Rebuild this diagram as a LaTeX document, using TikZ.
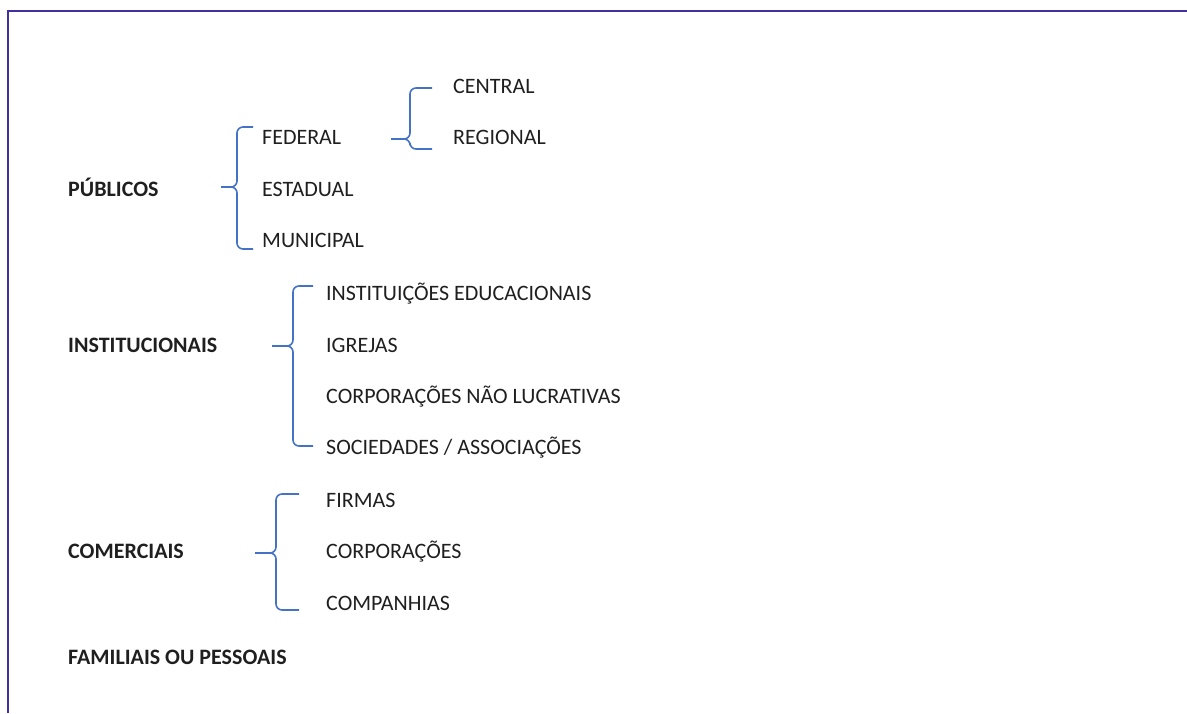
\documentclass[tikz,border=0pt]{standalone}
\usepackage{fontspec}
\setmainfont{Carlito}
\usepackage{tikz}
\definecolor{moldura}{RGB}{64,48,160}
\definecolor{azulchave}{RGB}{68,114,196}
\tikzstyle{grupo} = [anchor=base west, inner sep=0pt, font=\fontsize{22}{26}\selectfont\bfseries, text=black!88]
\tikzstyle{item} = [anchor=base west, inner sep=0pt, font=\fontsize{22}{26}\selectfont, text=black!88]
\tikzstyle{chave} = [color=azulchave, line width=1.6pt, rounded corners=6pt]
% #1 ponta x, #2 haste x, #3 fim x, #4 topo y, #5 ponta y, #6 base y
\newcommand{\desenhachave}[6]{%
  \draw[chave] (#3,#4) -- (#2,#4) -- (#2,#5) -- (#1,#5);
  \draw[chave] (#1,#5) -- (#2,#5) -- (#2,#6) -- (#3,#6);}

\begin{document}
\begin{tikzpicture}[x=1pt,y=-1pt]
        \useasboundingbox (0,0) rectangle (1187,713);
        \draw[color=moldura, line width=2.8pt] (8,713) -- (8,11) -- (1187,11);
        % publicos
        \node[grupo] (publicos) at (68,196) {PÚBLICOS};
        \node[item] (federal) at (262,144) {FEDERAL};
        \node[item] (estadual) at (262,196) {ESTADUAL};
        \node[item] (municipal) at (262,247) {MUNICIPAL};
        \node[item] (central) at (453,93) {CENTRAL};
        \node[item] (regional) at (453,144) {REGIONAL};
        \desenhachave{221}{237}{253}{127}{187}{249}
        \desenhachave{391}{410}{432}{88}{139}{149}
        % institucionais
        \node[grupo] (institucionais) at (68,352) {INSTITUCIONAIS};
        \node[item] (educacionais) at (326,300) {INSTITUIÇÕES EDUCACIONAIS};
        \node[item] (igrejas) at (326,352) {IGREJAS};
        \node[item] (naolucrativas) at (326,403) {CORPORAÇÕES NÃO LUCRATIVAS};
        \node[item] (sociedades) at (326,454) {SOCIEDADES / ASSOCIAÇÕES};
        \desenhachave{272}{293}{313}{286}{346}{446}
        % comerciais
        \node[grupo] (comerciais) at (68,558) {COMERCIAIS};
        \node[item] (firmas) at (326,507) {FIRMAS};
        \node[item] (corporacoes) at (326,558) {CORPORAÇÕES};
        \node[item] (companhias) at (326,610) {COMPANHIAS};
        \desenhachave{255}{276}{299}{494}{553}{610}
        \node[grupo] (familiais) at (68,664) {FAMILIAIS OU PESSOAIS};
    \end{tikzpicture}
\end{document}
